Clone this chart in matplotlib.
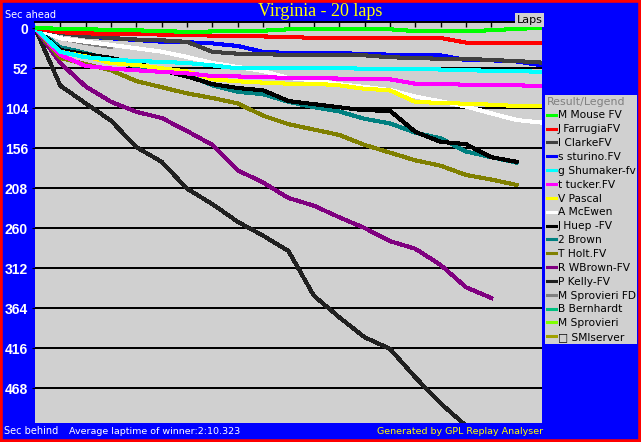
import matplotlib
matplotlib.use("Agg")
import matplotlib.pyplot as plt
from matplotlib.patches import Rectangle

# seconds behind the winner's average pace, one value per completed lap
mouse     = [0, 1, 1.7, 2.3, 3, 4, 5, 4.5, 4, 3.5, 1.7, 1.7, 1.7, 1.7, 1.7, 4, 4.3, 4, 3, 1, 0]
farrugia  = [0, 5.5, 7, 7.5, 8, 8.5, 8.5, 10, 10.5, 11, 11.5, 13, 13.5, 12.5, 12.5, 12.5, 13, 19, 19, 19, 19.5]
clarke    = [0, 6.5, 11, 13, 15, 16, 18, 31, 33.4, 34, 35, 35, 35.5, 35.5, 38, 39, 40, 40, 41.6, 43, 45]
sturino   = [0, 6.5, 11, 13.4, 15.6, 17.8, 18.5, 20, 23.4, 31, 32.5, 33, 33, 33.4, 34.7, 35.5, 35.5, 41.6, 42, 43.5, 48.5]
shumaker  = [0, 31, 38, 41, 43, 44, 45.5, 48.5, 52.5, 52, 52, 52, 52, 53, 53, 53, 54, 55, 55.5, 56, 57]
tucker    = [0, 35, 49.4, 52.7, 55, 57, 59, 62.4, 63, 63.7, 65, 65.4, 65.7, 66, 66.7, 72.4, 72.8, 73.7, 74, 74.5, 75.4]
pascal    = [0, 31, 37, 45.5, 48, 52.4, 56.5, 66.7, 69.3, 71, 72.4, 72.4, 74.5, 79, 81, 96, 97.5, 98.4, 99.7, 101.4, 101.4]
mcewen    = [0, 13.4, 17.8, 22, 26.4, 30.8, 37.7, 45.5, 50.7, 56, 65, 68, 73, 76.7, 80.6, 89, 95.5, 102, 111, 119.6, 123]
huep      = [0, 28.6, 34, 39, 45.5, 55, 63, 73, 78, 81, 95, 99, 103, 107, 107.5, 135, 148, 151, 168, 174]
brown     = [0, 25, 32.5, 41.6, 50, 56, 61, 74.5, 83, 86, 96, 103, 108.5, 118, 124, 136, 143.5, 160.5, 168, 175]
holt      = [0, 39, 47, 55, 69, 77, 85, 91, 98, 114, 125, 132, 139, 152, 162, 172, 179, 191, 197, 204]
wbrown    = [0, 45.5, 76, 96, 109, 117, 134, 152, 185, 201, 221, 231, 246, 260, 277, 287, 308, 337, 351]
kelly     = [0, 75, 98, 120.5, 155, 174, 209, 229, 252, 270, 290, 348, 376, 402, 417, 454, 488, 517]
sproFD    = [0, 13, 19.5, 24.7]
bernhardt = [0, 37.7]
sprovieri = [0, 40]
smiserver = []

drivers = ["M Mouse FV", "J FarrugiaFV", "I ClarkeFV", "s sturino.FV", "g Shumaker-fv",
           "t tucker.FV", "V Pascal", "A McEwen", "J Huep -FV", "2 Brown", "T Holt.FV",
           "R WBrown-FV", "P Kelly-FV", "M Sprovieri FD", "B Bernhardt", "M Sprovieri",
           "\u25a1 SMIserver"]
series = [mouse, farrugia, clarke, sturino, shumaker, tucker, pascal, mcewen, huep, brown,
          holt, wbrown, kelly, sproFD, bernhardt, sprovieri, smiserver]
colors = ["#00ff00", "#ff0000", "#404040", "#0000ff", "#00ffff", "#ff00ff", "#ffff00",
          "#ffffff", "#000000", "#008080", "#808000", "#800080", "#202020", "#808080",
          "#00c080", "#80ff00", "#a0a000"]

yticks = [0, 52, 104, 156, 208, 260, 312, 364, 416, 468]
n_laps = 20

W, H = 641, 442
fig = plt.figure(figsize=(W / 100, H / 100), dpi=100)
fig.patch.set_facecolor("#0000ff")
fig.patches.append(Rectangle((0, 0), 1, 1, transform=fig.transFigure, fill=False,
                             ec="#ff0000", lw=4, zorder=10))

ax = fig.add_axes([35 / W, 1 - 423 / H, (542 - 35) / W, (423 - 22) / H])
ax.set_facecolor("#d0d0d0")

for y in yticks[1:]:
    ax.axhline(y, color="black", lw=1.4, zorder=1, antialiased=False)

# draw back to front so the leaders sit on top
for vals, name, col in reversed(list(zip(series, drivers, colors))):
    ax.plot(range(len(vals)), vals, color=col, lw=2.2, label=name,
            solid_joinstyle="miter", antialiased=False, zorder=2)

ax.set_xlim(0, n_laps)
ax.set_ylim(513.5, -7.8)

ax.set_yticks(yticks)
ax.set_yticklabels([str(t) for t in yticks], color="white", fontweight="bold",
                   family="Liberation Sans", fontsize=10)
ax.tick_params(axis="y", length=2, color="black", pad=3)

ax.set_xticks(range(1, n_laps))
ax.tick_params(axis="x", top=True, bottom=False, labeltop=False, labelbottom=False,
               direction="in", length=3.6, width=1, color="black")

for s in ["left", "right", "bottom"]:
    ax.spines[s].set_visible(False)
ax.spines["top"].set_color("black")
ax.spines["top"].set_linewidth(1.4)

ax.text(0.976, 1.005, "Laps", transform=ax.transAxes, ha="center", va="center",
        fontsize=8, color="black",
        bbox=dict(facecolor="#d0d0d0", edgecolor="none", pad=1.2))

# legend order as in the reference (top = winner)
handles, labels = ax.get_legend_handles_labels()
leg = ax.legend(handles[::-1], labels[::-1], loc="upper left",
                bbox_to_anchor=(545 / W, 1 - 95 / H), bbox_transform=fig.transFigure,
                title="Result/Legend", fontsize=7.7, title_fontsize=7.9,
                frameon=True, fancybox=False, facecolor="#d0d0d0", edgecolor="none",
                framealpha=1, borderpad=0.15, borderaxespad=0, labelspacing=0.36,
                handlelength=0.9, handletextpad=0.15, alignment="left")
leg.get_title().set_color("#808080")

fig.text(320 / W, 1 - 12 / H, "Virginia - 20 laps", ha="center", va="center",
         family="Liberation Serif", fontsize=13, color="#ffff00")
fig.text(5 / W, 1 - 15 / H, "Sec ahead", ha="left", va="center", fontsize=7, color="white")
fig.text(4 / W, 1 - 431 / H, "Sec behind", ha="left", va="center", fontsize=7, color="white")
fig.text(69 / W, 1 - 431 / H, "Average laptime of winner:2:10.323", ha="left", va="center",
         fontsize=6.8, color="white")
fig.text(543 / W, 1 - 431 / H, "Generated by GPL Replay Analyser", ha="right", va="center",
         fontsize=6.8, color="#ffff00")

fig.savefig("out.png", dpi=100, facecolor=fig.get_facecolor())
